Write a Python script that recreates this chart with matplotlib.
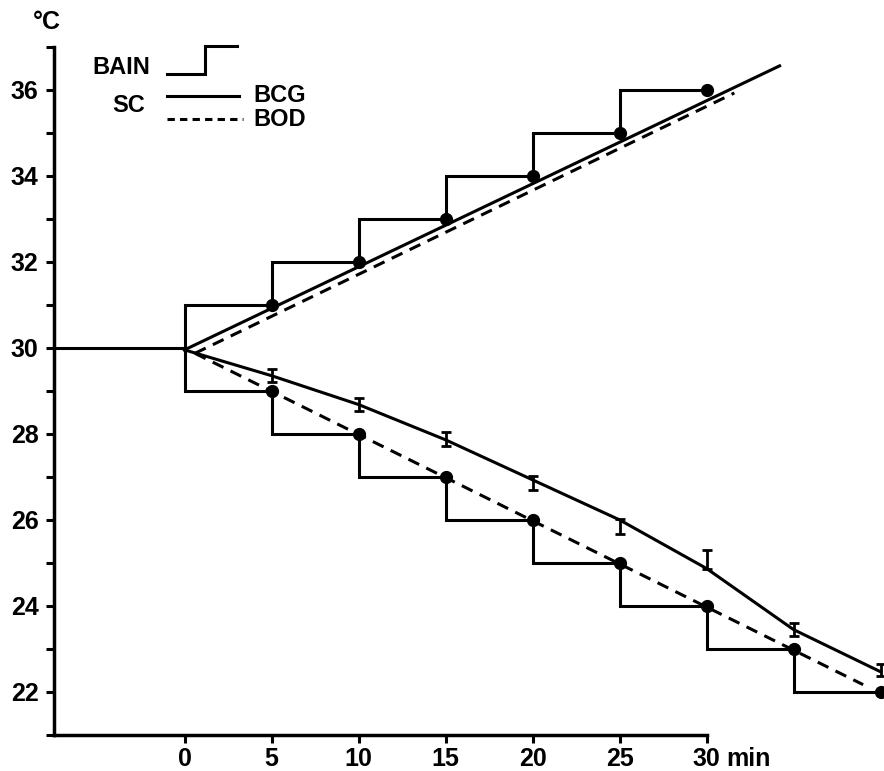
import matplotlib
matplotlib.use("Agg")
import matplotlib.pyplot as plt
from matplotlib.lines import Line2D
from matplotlib.ticker import MultipleLocator
import numpy as np

# temps in min, temperature in degC
t = [0, 5, 10, 15, 20, 25, 30, 35, 40]
t_rise = [0, 5, 10, 15, 20, 25, 30]

# bath steps (BAIN)
bain_up = [31, 32, 33, 34, 35, 36]          # level after each step, rising
bain_down = [29, 28, 27, 26, 25, 24, 23, 22]  # falling
bain_start = 30

# skin temp (SC), rising: straight fits
bcg_up_x = [0, 34.2]
bcg_up_y = [29.95, 36.55]
bod_up_x = [0.6, 31.6]
bod_up_y = [29.87, 35.92]

# skin temp falling
bcg_down_curve = [29.95, 29.35, 28.68, 27.86, 26.93, 26.0, 24.87, 23.45, 22.47]
bcg_down_mean = [29.35, 28.68, 27.88, 26.86, 25.84, 25.08, 23.45, 22.5]
bcg_down_err = [0.15, 0.16, 0.17, 0.16, 0.17, 0.23, 0.16, 0.14]
bod_down_x = [0.6, 39.0]
bod_down_y = [29.87, 22.17]

xticks = [0, 5, 10, 15, 20, 25, 30]
yticks = [22, 24, 26, 28, 30, 32, 34, 36]

plt.rcParams['font.family'] = ['Liberation Sans', 'DejaVu Sans']
plt.rcParams['font.weight'] = 'bold'

W, H = 884, 771
fig = plt.figure(figsize=(W / 100, H / 100), dpi=100)
ax = fig.add_axes([54 / W, 36 / H, 830 / W, 688.5 / H])
ax.set_xlim(-7.5, 40.2)
ax.set_ylim(21, 37)

lw = 2.2
dash = (0, (3.9, 2.6))


def step_path(levels, start):
    xs = [-7.5, 0]
    ys = [start, start]
    prev = 0
    for i, lev in enumerate(levels):
        xs += [prev, prev + 5]
        ys += [lev, lev]
        prev += 5
    return xs, ys


# baseline + rising bath
xs, ys = step_path(bain_up, bain_start)
ax.plot(xs, ys, color='black', lw=lw, solid_joinstyle='miter')
ax.plot(t_rise[1:], bain_up, 'o', color='black', ms=8.5)

# falling bath
xs, ys = step_path(bain_down, bain_start)
ax.plot(xs[1:], ys[1:], color='black', lw=lw, solid_joinstyle='miter')
ax.plot(t[1:], bain_down, 'o', color='black', ms=8.5, clip_on=False)

# rising skin
ax.plot(bcg_up_x, bcg_up_y, color='black', lw=lw)
ax.plot(bod_up_x, bod_up_y, color='black', lw=lw, linestyle=dash)

# falling skin
ax.plot(t, bcg_down_curve, color='black', lw=lw)
ax.errorbar(t[1:], bcg_down_mean, yerr=bcg_down_err, fmt='none',
            ecolor='black', elinewidth=2, capsize=3.6, capthick=2)
ax.plot(bod_down_x, bod_down_y, color='black', lw=lw, linestyle=dash)

# axes look
for s in ['top', 'right']:
    ax.spines[s].set_visible(False)
ax.spines['left'].set_linewidth(2.5)
ax.spines['bottom'].set_linewidth(2.5)
ax.spines['bottom'].set_bounds(-7.5, 30)
ax.set_xticks(xticks)
ax.set_xticklabels([str(v) for v in xticks])
ax.set_yticks(yticks)
ax.set_yticklabels([str(v) for v in yticks])
ax.yaxis.set_minor_locator(MultipleLocator(1))
ax.tick_params(which='both', direction='out', length=6, width=2.2,
               labelsize=18, pad=5)
ax.tick_params(axis='x', pad=2.5)

ax.annotate('min', xy=(30, 21), xycoords='data', xytext=(14, -22.5),
            textcoords='offset points', ha='left', va='baseline',
            fontsize=18, fontweight='bold')
fig.text(47 / W, 1 - 22 / H, '°C', ha='center', va='center',
         fontsize=18, fontweight='bold')


# hand drawn legend, in pixel coords of the figure
def px(x, y):
    return x / W, 1 - y / H


def fig_line(xp, yp, **kw):
    pts = [px(a, b) for a, b in zip(xp, yp)]
    fig.add_artist(Line2D([p[0] for p in pts], [p[1] for p in pts],
                          transform=fig.transFigure, color='black', lw=lw, **kw))


fig_line([167, 205, 205, 237], [74, 74, 46, 46], solid_joinstyle='miter')
fig_line([167, 239], [96, 96])
fig_line([167, 243], [119, 119], linestyle=(0, (2.4, 1.7)))

fs_leg = 17
fig.text(*px(150, 67), 'BAIN', ha='right', va='center', fontsize=fs_leg)
fig.text(*px(145, 106), 'SC', ha='right', va='center', fontsize=fs_leg)
fig.text(*px(253, 95), 'BCG', ha='left', va='center', fontsize=fs_leg)
fig.text(*px(253, 120), 'BOD', ha='left', va='center', fontsize=fs_leg)

fig.savefig('out.png', dpi=100)
